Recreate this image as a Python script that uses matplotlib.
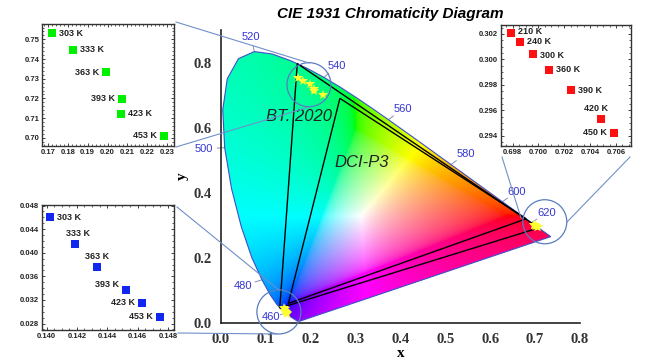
import numpy as np
import matplotlib
matplotlib.use('Agg')
import matplotlib.pyplot as plt
from matplotlib.patches import Polygon, Ellipse
from matplotlib.lines import Line2D

# CIE 1931 spectral locus (x, y) by wavelength (nm)
wl = [380, 390, 400, 410, 420, 430, 440, 450, 460, 465, 470, 475, 480, 485, 490, 495,
      500, 505, 510, 515, 520, 525, 530, 535, 540, 545, 550, 555, 560, 570, 580, 590,
      600, 610, 620, 630, 640, 650, 660, 680, 700]
loc_x = [0.1741, 0.1738, 0.1733, 0.1726, 0.1714, 0.1689, 0.1644, 0.1566, 0.1440, 0.1355,
         0.1241, 0.1096, 0.0913, 0.0687, 0.0454, 0.0235, 0.0082, 0.0039, 0.0139, 0.0389,
         0.0743, 0.1142, 0.1547, 0.1929, 0.2296, 0.2658, 0.3016, 0.3373, 0.3731, 0.4441,
         0.5125, 0.5752, 0.6270, 0.6658, 0.6915, 0.7079, 0.7190, 0.7260, 0.7300, 0.7334, 0.7347]
loc_y = [0.0050, 0.0049, 0.0048, 0.0048, 0.0051, 0.0069, 0.0109, 0.0177, 0.0297, 0.0399,
         0.0578, 0.0868, 0.1327, 0.2007, 0.2950, 0.4127, 0.5384, 0.6548, 0.7502, 0.8120,
         0.8338, 0.8262, 0.8059, 0.7816, 0.7543, 0.7243, 0.6923, 0.6589, 0.6245, 0.5547,
         0.4866, 0.4242, 0.3725, 0.3340, 0.3083, 0.2920, 0.2809, 0.2740, 0.2700, 0.2666, 0.2653]

# gamut primaries (R, G, B)
bt2020_x = [0.708, 0.170, 0.131]
bt2020_y = [0.292, 0.797, 0.046]
p3_x = [0.680, 0.265, 0.150]
p3_y = [0.320, 0.690, 0.060]

# temperature series
g_temp = ['303 K', '333 K', '363 K', '393 K', '423 K', '453 K']
g_x = [0.1719, 0.1828, 0.1991, 0.2072, 0.2069, 0.2283]
g_y = [0.7530, 0.7446, 0.7334, 0.7199, 0.7121, 0.7009]

r_temp = ['210 K', '240 K', '300 K', '360 K', '390 K', '420 K', '450 K']
r_x = [0.69785, 0.69854, 0.69959, 0.70081, 0.70249, 0.70481, 0.70585]
r_y = [0.30205, 0.30140, 0.30041, 0.29918, 0.29756, 0.29529, 0.29425]

b_temp = ['303 K', '333 K', '363 K', '393 K', '423 K', '453 K']
b_x = [0.14022, 0.14186, 0.14333, 0.14526, 0.14629, 0.14745]
b_y = [0.04604, 0.04149, 0.03755, 0.03361, 0.03153, 0.02917]

wl_labels = [460, 480, 500, 520, 540, 560, 580, 600, 620]

W, H = 645, 360
fig = plt.figure(figsize=(6.45, 3.6), dpi=100)

def fpos(l, t, r, b):
    return [l / W, 1 - b / H, (r - l) / W, (b - t) / H]

# ---------------- main diagram ----------------
ax = fig.add_axes(fpos(221, 30, 580, 323))
ax.set_xlim(0, 0.8)
ax.set_ylim(0, 0.9)

# colour fill of the horseshoe (negative sRGB shifted up, then normalised)
xx, yy = np.meshgrid(np.linspace(0, 0.8, 640), np.linspace(0.0005, 0.9, 720))
X = xx / yy
Y = np.ones_like(xx)
Z = (1 - xx - yy) / yy
M = np.array([[3.2406, -1.5372, -0.4986],
              [-0.9689, 1.8758, 0.0415],
              [0.0557, -0.2040, 1.0570]])
rgb = np.stack([X, Y, Z], axis=-1) @ M.T
rgb = rgb - np.minimum(rgb.min(axis=-1, keepdims=True), 0)
rgb = rgb / np.maximum(rgb.max(axis=-1, keepdims=True), 1e-9)
rgb = np.where(rgb <= 0.0031308, 12.92 * rgb, 1.055 * rgb ** (1 / 2.4) - 0.055)
rgb = np.clip(rgb, 0, 1)

poly = Polygon(np.column_stack([loc_x, loc_y]), closed=True, facecolor='none',
               edgecolor='#3f4fc8', lw=0.8, zorder=3)
ax.add_patch(poly)
im = ax.imshow(rgb, extent=[0, 0.8, 0.0005, 0.9], origin='lower', aspect='auto',
               interpolation='bilinear', zorder=1)
im.set_clip_path(poly)

# gamut triangles
ax.add_patch(Polygon(np.column_stack([bt2020_x, bt2020_y]), closed=True, fill=False,
                     edgecolor='black', lw=1.0, zorder=4))
ax.add_patch(Polygon(np.column_stack([p3_x, p3_y]), closed=True, fill=False,
                     edgecolor='black', lw=1.0, zorder=4))
ax.text(0.174, 0.634, 'BT. 2020', fontsize=12, style='italic', ha='center', va='center',
        color='#222222', family='Liberation Sans', zorder=5)
ax.text(0.314, 0.492, 'DCI-P3', fontsize=12, style='italic', ha='center', va='center',
        color='#222222', family='Liberation Sans', zorder=5)

# wavelength labels
lab_pos = {460: (0.111, 0.018), 480: (0.049, 0.114), 500: (-0.038, 0.535),
           520: (0.067, 0.880), 540: (0.258, 0.790), 560: (0.405, 0.658),
           580: (0.546, 0.520), 600: (0.659, 0.403), 620: (0.726, 0.338)}
for w in wl_labels:
    i = wl.index(w)
    px, py = loc_x[i], loc_y[i]
    tx, ty = lab_pos[w]
    ax.plot([px, px + (tx - px) * 0.35], [py, py + (ty - py) * 0.35], color='#8890b0',
            lw=0.7, zorder=2, clip_on=False)
    ax.text(tx, ty, str(w), fontsize=8, color='#3535d0', ha='center', va='center',
            family='Liberation Sans', zorder=6, clip_on=False)

# stars
for sx, sy in [(g_x, g_y), (r_x, r_y), (b_x, b_y)]:
    ax.plot(sx, sy, '*', color='#ffff30', ms=7, mew=0, zorder=7)

# circles around clusters
circ_col = '#5a7cbf'
for cx, cy in [(0.196, 0.732), (0.7216, 0.311), (0.129, 0.034)]:
    ax.add_patch(Ellipse((cx, cy), 44 / 449, 44 / 325, fill=False, edgecolor=circ_col,
                         lw=0.9, zorder=8, clip_on=False))

ax.spines['top'].set_visible(False)
ax.spines['right'].set_visible(False)
for s in ['left', 'bottom']:
    ax.spines[s].set_linewidth(1.2)
    ax.spines[s].set_color('#222222')
ax.set_xticks(np.arange(0, 0.81, 0.1))
ax.set_yticks(np.arange(0, 0.81, 0.2))
ax.tick_params(length=0, pad=7)
for t in ax.get_xticklabels() + ax.get_yticklabels():
    t.set_family('Liberation Serif')
    t.set_fontweight('bold')
    t.set_fontsize(10.5)
    t.set_color('#333333')
ax.set_xlabel('x', family='Liberation Serif', fontweight='bold', fontsize=11, labelpad=1)
ax.set_ylabel('y', family='Liberation Serif', fontweight='bold', fontsize=11, labelpad=3)
fig.text(390 / W, 1 - 14 / H, 'CIE 1931 Chromaticity Diagram', ha='center', va='center',
         fontsize=11, fontweight='bold', style='italic', family='Liberation Sans')

# connecting lines (figure pixels)
conn = [((176, 22), (309, 63)), ((176, 147), (309, 107)),
        ((502, 157), (521, 218)), ((630, 157), (567, 222)),
        ((177, 207), (279, 290)), ((178, 333), (276, 334))]
for (x0, y0), (x1, y1) in conn:
    fig.add_artist(Line2D([x0 / W, x1 / W], [1 - y0 / H, 1 - y1 / H],
                          transform=fig.transFigure, color='#7090c8', lw=0.8))

# ---------------- insets ----------------
def inset(rect, xs, ys, temps, color, xlim, ylim, xt, yt, fmt, offs):
    a = fig.add_axes(fpos(*rect))
    a.plot(xs, ys, 's', color=color, ms=5.5, mew=0)
    for xv, yv, t, (dx, dy, ha) in zip(xs, ys, temps, offs):
        a.annotate(t, (xv, yv), xytext=(dx, dy), textcoords='offset points', ha=ha,
                   va='center', fontsize=6.5, fontweight='bold', family='Liberation Sans',
                   color='#222222')
    a.set_xlim(*xlim)
    a.set_ylim(*ylim)
    a.set_xticks(xt)
    a.set_yticks(yt)
    a.set_xticklabels([fmt % v for v in xt])
    a.set_yticklabels([fmt % v for v in yt])
    a.minorticks_on()
    a.tick_params(which='both', direction='in', top=True, right=True, pad=2,
                  labelsize=5.5, colors='#222222')
    a.tick_params(which='major', length=2.5, width=0.6)
    a.tick_params(which='minor', length=1.2, width=0.5)
    for t in a.get_xticklabels() + a.get_yticklabels():
        t.set_fontweight('bold')
        t.set_family('Liberation Sans')
    for s in a.spines.values():
        s.set_linewidth(1.0)
        s.set_color('#333333')
    return a

R, L = 'left', 'right'
inset((42, 24, 174, 146), g_x, g_y, g_temp, '#00ee00', (0.167, 0.2335), (0.6958, 0.7578),
      [0.17, 0.18, 0.19, 0.20, 0.21, 0.22, 0.23], [0.70, 0.71, 0.72, 0.73, 0.74, 0.75], '%.2f',
      [(5, 0, R), (5, 0, R), (-5, 0, L), (-5, 0, L), (5, 0, R), (-5, 0, L)])
inset((501, 25, 631, 146), r_x, r_y, r_temp, '#ff1010', (0.6971, 0.70716), (0.2932, 0.3027),
      [0.698, 0.700, 0.702, 0.704, 0.706], [0.294, 0.296, 0.298, 0.300, 0.302], '%.3f',
      [(5, 1, R), (5, 0, R), (5, -1, R), (5, 0, R), (5, 0, R), (-3, 8, 'center'), (-5, 0, L)])
inset((42, 205, 174, 330), b_x, b_y, b_temp, '#1028f0', (0.1397, 0.1484), (0.0269, 0.0481),
      [0.140, 0.142, 0.144, 0.146, 0.148], [0.028, 0.032, 0.036, 0.040, 0.044, 0.048], '%.3f',
      [(5, 0, R), (2, 7.5, 'center'), (0, 7.5, 'center'), (-5, 4, L), (-5, 0, L), (-5, 0, L)])

fig.savefig('out.png', dpi=100)
